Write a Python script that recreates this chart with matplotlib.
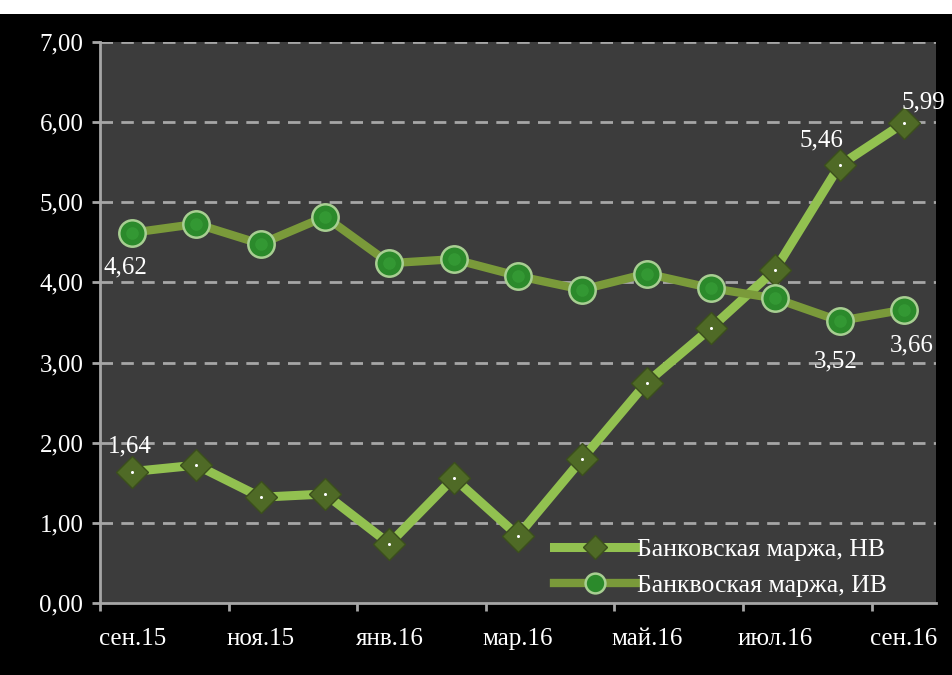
import numpy as np
import matplotlib.pyplot as plt
from matplotlib.patches import Rectangle

months = ['сен.15', 'окт.15', 'ноя.15', 'дек.15', 'янв.16', 'фев.16', 'мар.16',
          'апр.16', 'май.16', 'июн.16', 'июл.16', 'авг.16', 'сен.16']
nv = [1.64, 1.72, 1.32, 1.36, 0.74, 1.56, 0.84, 1.80, 2.75, 3.43, 4.16, 5.46, 5.99]
iv = [4.62, 4.73, 4.48, 4.82, 4.24, 4.29, 4.08, 3.91, 4.11, 3.93, 3.80, 3.52, 3.66]
nv_name = 'Банковская маржа, НВ'
iv_name = 'Банквоская маржа, ИВ'

plt.rcParams['font.family'] = ['Liberation Serif', 'DejaVu Serif']

fig = plt.figure(figsize=(9.53, 6.75), dpi=100, facecolor='black')
ax = fig.add_axes([100/953, 72/675, 836/953, 561/675])
ax.set_facecolor('#3c3c3c')

# white strip at the top (cut-off title)
fig.patches.append(Rectangle((0, 1 - 14/675), 1, 14/675, transform=fig.transFigure,
                             facecolor='white', edgecolor='none'))

x = np.arange(len(months))

ax.plot(x, nv, color='#92c150', lw=6.5, solid_joinstyle='miter', zorder=3,
        marker='D', ms=16, mfc='#4f6a26', mec='#3b4f1c', mew=1, label=nv_name)
ax.plot(x, nv, ls='none', marker='o', ms=2.2, mfc='white', mec='none', zorder=4)

ax.plot(x, iv, color='#7a9a3a', lw=6, zorder=3,
        marker='o', ms=19, mfc='#2b8a2b', mec='#a8cf92', mew=1.8, label=iv_name)
ax.plot(x, iv, ls='none', marker='o', ms=9, mfc='#3aa33a', mec='none', zorder=4, alpha=0.6)

ax.set_xlim(-0.5, len(months) - 0.5)
ax.set_ylim(0, 7)

for y in range(1, 8):
    ax.axhline(y, color='#a6a6a6', lw=2, ls=(0, (4.5, 3)), zorder=1)

yt = np.arange(0, 8)
ax.set_yticks(yt)
ax.set_yticklabels([('%.2f' % v).replace('.', ',') for v in yt.astype(float)])
ax.set_xticks(np.arange(-0.5, len(months), 2))
ax.set_xticklabels([])
ax.set_xticks(x[::2], minor=True)
ax.set_xticklabels(months[::2], minor=True, fontsize=18, color='white')
ax.tick_params(axis='x', which='minor', length=0, pad=18)
ax.tick_params(axis='x', which='major', length=6, width=2, color='#a6a6a6', direction='out')
ax.tick_params(axis='y', length=6, width=2, color='#a6a6a6', direction='out', pad=6,
               labelsize=18, labelcolor='white')

for s in ['top', 'right']:
    ax.spines[s].set_visible(False)
for s in ['left', 'bottom']:
    ax.spines[s].set_color('#a6a6a6')
    ax.spines[s].set_linewidth(2)

def lab(i, vals, dx, dy, ha='center'):
    ax.annotate(('%.2f' % vals[i]).replace('.', ','), (x[i], vals[i]),
                xytext=(dx, dy), textcoords='offset points', ha=ha, va='center',
                color='white', fontsize=18, zorder=5, annotation_clip=False)

lab(0, nv, -2, 18)
lab(11, nv, -13, 18)
lab(12, nv, 14, 15)
lab(0, iv, -5, -25)
lab(11, iv, -3, -29)
lab(12, iv, 6, -26)

leg = ax.legend(loc='lower left', bbox_to_anchor=(0.515, -0.03), frameon=False,
                fontsize=18.5, labelcolor='white', handlelength=3.2, handletextpad=0.05,
                labelspacing=0.5, markerscale=0.75)

fig.savefig('out.png', dpi=100, facecolor='black')
